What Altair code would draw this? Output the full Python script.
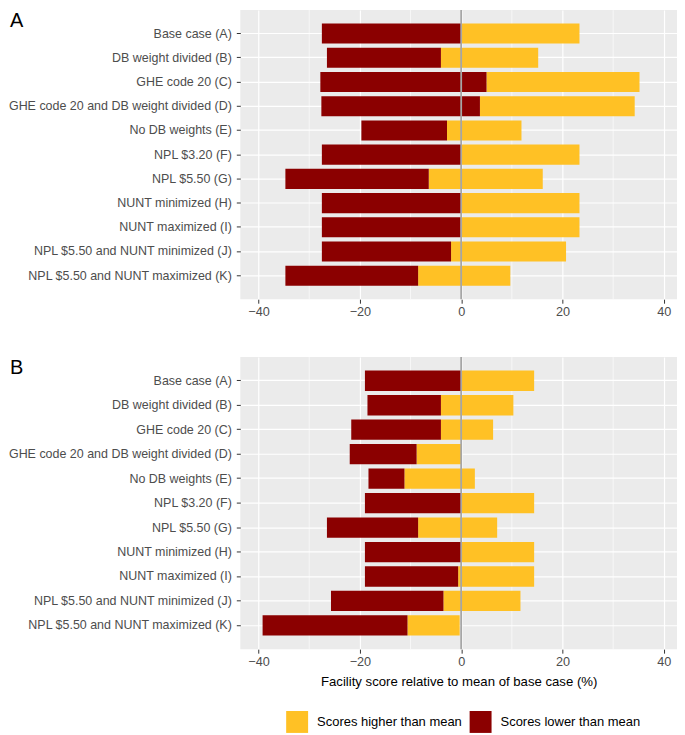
import altair as alt
import pandas as pd

FONT = "Liberation Sans"

scenarios = [
    "Base case (A)",
    "DB weight divided (B)",
    "GHE code 20 (C)",
    "GHE code 20 and DB weight divided (D)",
    "No DB weights (E)",
    "NPL $3.20 (F)",
    "NPL $5.50 (G)",
    "NUNT minimized (H)",
    "NUNT maximized (I)",
    "NPL $5.50 and NUNT minimized (J)",
    "NPL $5.50 and NUNT maximized (K)",
]
type_labels = ["Scores higher than mean", "Scores lower than mean"]
type_colors = ["#FFC125", "#8B0000"]

# Panel A: lowest score, boundary between lower/higher, highest score
a_min = [-27.5, -26.5, -27.8, -27.6, -19.7, -27.5, -34.7, -27.5, -27.5, -27.5, -34.7]
a_mid = [0.0, -4.0, 5.0, 3.7, -2.8, 0.0, -6.4, 0.0, -0.1, -2.0, -8.5]
a_max = [23.35, 15.2, 35.2, 34.25, 11.9, 23.35, 16.1, 23.35, 23.35, 20.7, 9.7]

# Panel B
b_min = [-19.0, -18.5, -21.7, -22.0, -18.3, -19.0, -26.5, -19.0, -19.0, -25.7, -39.2]
b_mid = [0.0, -4.0, -4.0, -8.8, -11.2, 0.0, -8.5, 0.0, -0.6, -3.5, -10.6]
b_max = [14.4, 10.3, 6.3, 0.0, 2.7, 14.4, 7.1, 14.4, 14.4, 11.7, -0.3]

x_ticks = [-40, -20, 0, 20, 40]
x_minor = [-30, -10, 10, 30]
x_zero = [0]
x_domain = [-43.6, 42.6]

PLOT_W = 438


def long_df(mins, mids, maxs):
    rows = []
    for s, lo, mid, hi in zip(scenarios, mins, mids, maxs):
        rows.append({"scenario": s, "type": type_labels[0], "start": mid, "end": hi})
        rows.append({"scenario": s, "type": type_labels[1], "start": lo, "end": mid})
    return pd.DataFrame(rows)


def panel(df, tag, height, xtitle, show_legend):
    axis_kwargs = dict(
        values=x_ticks,
        grid=True,
        gridColor="white",
        gridWidth=1.2,
        domain=False,
        ticks=True,
        tickColor="#333333",
        tickSize=4,
        tickWidth=1,
        labelColor="#4D4D4D",
        labelFontSize=12.7,
        labelFont=FONT,
        labelPadding=2,
    )
    if xtitle:
        axis_kwargs.update(
            title=xtitle,
            titleFont=FONT,
            titleFontSize=13.2,
            titleFontWeight="normal",
            titleColor="black",
            titlePadding=8,
        )
    else:
        axis_kwargs.update(title=None)
    xscale = alt.Scale(domain=x_domain, nice=False, zero=False)
    X = alt.X("start:Q", scale=xscale, axis=alt.Axis(**axis_kwargs))

    yenc = alt.Y(
        "scenario:N",
        sort=scenarios,
        scale=alt.Scale(paddingInner=0.17, paddingOuter=0.555),
        axis=alt.Axis(
            title=None,
            domain=False,
            grid=True,
            gridColor="white",
            gridWidth=1.2,
            bandPosition=0.5,
            ticks=True,
            tickColor="#333333",
            tickSize=4,
            tickWidth=1,
            labelFont=FONT,
            labelFontSize=12.5,
            labelColor="#4D4D4D",
            labelPadding=5,
            labelLimit=400,
        ),
    )

    if show_legend:
        legend = alt.Legend(
            title=None,
            orient="none",
            legendX=46,
            legendY=355,
            direction="horizontal",
            symbolType="square",
            symbolSize=484,
            symbolStrokeWidth=0,
            symbolOpacity=1,
            labelFont=FONT,
            labelFontSize=13,
            labelColor="black",
            labelOffset=9,
            columnPadding=7,
            padding=0,
        )
    else:
        legend = None

    minor = (
        alt.Chart(pd.DataFrame({"start": x_minor}))
        .mark_rule(color="white", strokeWidth=0.6)
        .encode(x=X)
    )
    bars = (
        alt.Chart(df)
        .mark_bar()
        .encode(
            x=X,
            x2="end:Q",
            y=yenc,
            color=alt.Color(
                "type:N",
                scale=alt.Scale(domain=type_labels, range=type_colors),
                legend=legend,
            ),
        )
    )
    zero = (
        alt.Chart(pd.DataFrame({"start": x_zero}))
        .mark_rule(color="#A6A6A6", strokeWidth=1.8)
        .encode(x=X)
    )
    tag_text = (
        alt.Chart(pd.DataFrame({"tag": [tag]}))
        .mark_text(
            align="left",
            baseline="alphabetic",
            fontSize=20,
            font=FONT,
            color="black",
        )
        .encode(x=alt.value(-231), y=alt.value(17), text="tag:N")
    )
    return alt.layer(minor, bars, zero, tag_text).properties(
        width=PLOT_W,
        height=height,
    )


pa = panel(long_df(a_min, a_mid, a_max), "A", 290, None, False)
pb = panel(long_df(b_min, b_mid, b_max), "B", 293,
           "Facility score relative to mean of base case (%)", True)

chart = (
    alt.vconcat(pa, pb, spacing=38)
    .resolve_legend(color="independent")
    .properties(padding={"left": 0, "top": 0, "right": 0, "bottom": 0})
    .configure(font=FONT)
    .configure_view(fill="#EBEBEB", strokeWidth=0)
)

chart.save("out.html", embed_options={"renderer": "svg", "actions": False})
